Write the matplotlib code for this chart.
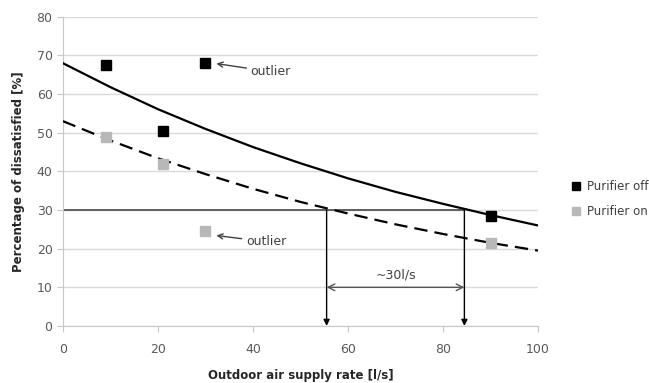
import numpy as np
import matplotlib
matplotlib.use('Agg')
import matplotlib.pyplot as plt

plt.rcParams.update({'font.family': 'DejaVu Sans', 'font.size': 9})

# measured points
air_rate = [9, 21, 30, 90]
pd_off = [67.5, 50.5, 68.0, 28.5]
pd_on = [49.0, 42.0, 24.5, 21.5]

# trend lines
trend_x = [0, 10, 20, 30, 40, 50, 60, 70, 80, 90, 100]
trend_off = [68.0, 61.8, 56.1, 51.0, 46.3, 42.1, 38.2, 34.7, 31.6, 28.7, 26.0]
trend_on = [53.0, 48.0, 43.4, 39.3, 35.5, 32.1, 29.1, 26.3, 23.8, 21.5, 19.5]

# 30 % criterion crossings
limit = 30
cross_on = 55.5
cross_off = 84.5

tick_col = '#595959'
grid_col = '#d9d9d9'

fig = plt.figure(figsize=(6.49, 3.83), dpi=100)
ax = fig.add_axes([0.097, 0.149, 0.732, 0.807])

ax.plot(trend_x, trend_off, color='black', lw=1.6, zorder=3)
ax.plot(trend_x, trend_on, color='black', lw=1.6, dashes=(6, 3.2), zorder=3)
ax.plot(air_rate, pd_off, 's', color='black', ms=7.5, label='Purifier off', zorder=4)
ax.plot(air_rate, pd_on, 's', color='#b8b8b8', ms=7.5, label='Purifier on', zorder=4)

ax.plot([0, cross_off], [limit, limit], color='#555555', lw=1.3, zorder=2)
for xc in (cross_on, cross_off):
    ax.annotate('', xy=(xc, 0), xytext=(xc, limit),
                arrowprops=dict(arrowstyle='-|>', color='black', lw=1.0,
                                mutation_scale=9, shrinkA=0, shrinkB=0), zorder=3)
ax.annotate('', xy=(cross_on, 10), xytext=(cross_off, 10),
            arrowprops=dict(arrowstyle='<->', color='#555555', lw=1.0,
                            mutation_scale=12, shrinkA=0, shrinkB=0))
ax.text((cross_on + cross_off) / 2, 11.5, '~30l/s', ha='center', va='bottom',
        color='#404040', fontsize=9)

ax.annotate('outlier', xy=(32.3, 67.9), xytext=(39.5, 65.8), va='center',
            color='#404040', fontsize=9,
            arrowprops=dict(arrowstyle='->', color='#404040', lw=1.0,
                            shrinkA=1, shrinkB=0))
ax.annotate('outlier', xy=(32.3, 23.4), xytext=(38.5, 21.8), va='center',
            color='#404040', fontsize=9,
            arrowprops=dict(arrowstyle='->', color='#404040', lw=1.0,
                            shrinkA=1, shrinkB=0))

ax.set_xlim(0, 100)
ax.set_ylim(0, 80)
ax.set_xticks(range(0, 101, 20))
ax.set_yticks(range(0, 81, 10))
ax.yaxis.grid(True, color=grid_col, lw=1.0)
ax.set_axisbelow(True)
for s in ('top', 'right'):
    ax.spines[s].set_visible(False)
for s in ('left', 'bottom'):
    ax.spines[s].set_color('#c8c8c8')
ax.tick_params(axis='both', colors='#c8c8c8', labelcolor=tick_col, length=4, labelsize=9)
ax.tick_params(axis='x', pad=8)

ax.set_xlabel('Outdoor air supply rate [l/s]', fontweight='bold', fontsize=8.5,
              color='#262626', labelpad=10)
ax.set_ylabel('Percentage of dissatisfied [%]', fontweight='bold', fontsize=8.5,
              color='#262626', labelpad=8)

ax.legend(loc='center left', bbox_to_anchor=(1.05, 0.41), frameon=False,
          handlelength=0.6, handletextpad=0.6, labelspacing=1.0, fontsize=8.5,
          labelcolor='#404040', markerscale=0.75)

fig.savefig('out.png', dpi=100)
